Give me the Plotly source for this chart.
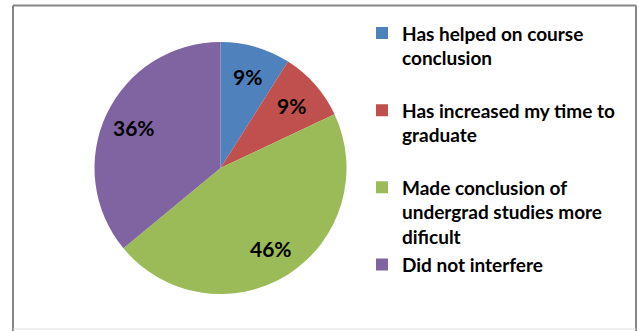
import math
import plotly.graph_objects as go

# Survey responses: effect on completing the undergraduate course
categories = [
    "Has helped on course<br>conclusion<br> ",
    "Has increased my time to<br>graduate<br> ",
    "Made conclusion of<br>undergrad studies more<br>dificult",
    "Did not interfere",
]
shares = [9, 9, 46, 36]
colors = ["#4F81BD", "#C0504D", "#9BBB59", "#8064A2"]

FONT = "Lato"
W, H = 639, 331

# Pie placement in pixels (centre and radius), converted to a paper domain
CX, CY, R = 220.5, 168.0, 126.0
pie_domain = dict(
    x=[(CX - R) / W, (CX + R) / W],
    y=[1 - (CY + R) / H, 1 - (CY - R) / H],
)

fig = go.Figure(
    go.Pie(
        labels=categories,
        values=shares,
        marker=dict(colors=colors, line=dict(width=0)),
        sort=False,
        direction="clockwise",
        rotation=0,
        textinfo="none",
        domain=pie_domain,
        hoverinfo="skip",
    )
)

# Percentage labels sit along each slice's mid-angle, about 3/4 of the way out
total = sum(shares)
annotations = []
cum = 0
for v in shares:
    mid = (cum + v / 2) / total * 2 * math.pi
    cum += v
    r = 0.755 * R
    px = CX + r * math.sin(mid)
    py = CY - r * math.cos(mid)
    annotations.append(
        dict(
            x=px / W, y=1 - py / H, xref="paper", yref="paper",
            text=f"{round(v / total * 100)}%", showarrow=False,
            font=dict(family=FONT, size=21, color="black", weight="bold"),
            xanchor="center", yanchor="middle",
        )
    )

border = dict(color="#868686", width=2)
fig.update_layout(
    width=W,
    height=H,
    margin=dict(l=0, r=0, t=0, b=0),
    paper_bgcolor="white",
    plot_bgcolor="white",
    showlegend=True,
    annotations=annotations,
    legend=dict(
        x=0.5665,
        y=0.957,
        xanchor="left",
        yanchor="top",
        valign="top",
        font=dict(family=FONT, size=19, color="black", weight="bold"),
        bgcolor="rgba(0,0,0,0)",
        tracegroupgap=0,
    ),
    shapes=[
        dict(type="line", xref="paper", yref="paper", x0=13 / W, x1=13 / W, y0=0, y1=1 - 5.5 / H, line=border),
        dict(type="line", xref="paper", yref="paper", x0=13 / W, x1=636 / W, y0=1 - 5.5 / H, y1=1 - 5.5 / H, line=border),
        dict(type="line", xref="paper", yref="paper", x0=636 / W, x1=636 / W, y0=0, y1=1 - 5.5 / H, line=border),
        dict(type="line", xref="paper", yref="paper", x0=13 / W, x1=636 / W, y0=2 / H, y1=2 / H,
             line=dict(color="#DDDDDD", width=1)),
    ],
)

fig.write_html("out.html")
